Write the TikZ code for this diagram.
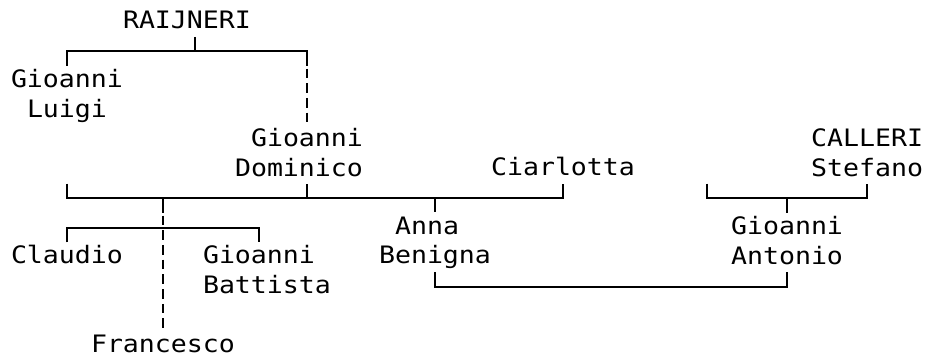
\documentclass[tikz,border=0pt]{standalone}
\usepackage{fontspec}
\usetikzlibrary{positioning}
\newfontfamily\treefont[FakeStretch=1.1073]{DejaVu Sans Mono}

\begin{document}
\begin{tikzpicture}[x=16pt,y=-29.4pt,node distance=0pt,
  every node/.style={font=\treefont\fontsize{24pt}{29.4pt}\selectfont,inner sep=0pt,text height=21.4pt,text depth=8pt},
  tie/.style={line width=1.9pt},
  dashtie/.style={line width=1.9pt,dash pattern=on 9.7pt off 5pt,dash phase=12.2pt}]
\useasboundingbox (-0.6875,-0.748) rectangle (57.375,11.259);
% rows of the bars
\coordinate (bar1) at (0,1);
\coordinate (bar6) at (0,6);
\coordinate (bar7) at (0,7);
\coordinate (bar9) at (0,9);
\coordinate (stub) at (3.5,5.5);
\coordinate (stub2) at (43.5,5.5);
% people
\node (rn) at (11,0) {RAIJNERI};
\node (gl) at (3.5,2) {Gioanni};
\node[below=of gl] (gl2) {Luigi};
\node (gd) at (18.5,4) {Gioanni};
\node[below left=0pt and 0pt of gd.south east] (gd2) {Dominico};
\node (ci) at (34.5,5) {Ciarlotta};
\node (ca) at (53.5,4) {CALLERI};
\node[below=of ca] (ca2) {Stefano};
\node (cl) at (3.5,8) {Claudio};
\node (gb) at (15.5,8) {Gioanni};
\node[below right=0pt and 0pt of gb.south west] (gb2) {Battista};
\node (ab2) at (26.5,8) {Benigna};
\node[above right=0pt and 16pt of ab2.north west] (ab) {Anna};
\node (ga) at (48.5,7) {Gioanni};
\node[below=of ga] (ga2) {Antonio};
\node[text depth=0pt,anchor=base] (fr) at ([yshift=-6.7pt]9.5,11) {Francesco};
% RAIJNERI
\draw[tie] ([xshift=8pt]rn.south) -- ([xshift=8pt]rn.south |- bar1);
\draw[tie] (gl.north) |- (gd.north |- bar1) -- ++(0,0.5) coordinate (gdup);
\draw[dashtie] (gdup) -- (gd.north);
% Gioanni Dominico and Ciarlotta
\draw[tie] (stub) |- (ci.south |- bar6) -- (ci.south);
\draw[tie] (gd2.south -| gd.south) -- (gd.south |- bar6);
\draw[tie] (ab2.north |- bar6) -- (ab2.north |- ab.north);
\draw[tie] (fr.north |- bar6) -- ++(0,0.5) coordinate (frup);
\draw[dashtie] (frup) -- (fr.north);
\draw[tie] (cl.north) |- (gb.north |- bar7) -- (gb.north);
% CALLERI
\draw[tie] (stub2) |- (ca2.south |- bar6) -- (ca2.south);
\draw[tie] (ga.north |- bar6) -- (ga.north);
% Anna Benigna and Gioanni Antonio
\draw[tie] (ab2.south) |- (ga2.south |- bar9) -- (ga2.south);
\end{tikzpicture}
\end{document}
